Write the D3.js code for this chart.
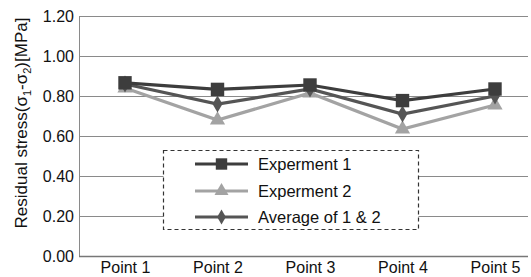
<!DOCTYPE html>
<html><head><meta charset="utf-8">
<script src="https://cdn.jsdelivr.net/npm/d3@7"></script>
<style>body{margin:0;background:#fff}svg{display:block}text{font-family:"Liberation Sans",Arial,sans-serif}</style>
</head><body><svg id="c" width="531" height="277"></svg>
<script>
const categories = ["Point 1","Point 2","Point 3","Point 4","Point 5"];
const experiment1 = [0.866,0.833,0.855,0.777,0.835];
const experiment2 = [0.84,0.68,0.815,0.635,0.755];
const average12 = [0.86,0.76,0.835,0.71,0.80];
const yTicks = [0,0.2,0.4,0.6,0.8,1.0,1.2];
const seriesNames = ["Experment 1","Experment 2","Average of 1 & 2"];

(function(){
const svg = d3.select("#c");
const mLeft = 79, mRight = 528, mTop = 16, mBottom = 256;
const x = d3.scalePoint().domain(categories).range([125, 495]);
const y = d3.scaleLinear().domain([0,1.2]).range([mBottom, mTop]);

// grid
svg.append("g").selectAll("line").data(yTicks.filter(d=>d>0)).join("line")
  .attr("x1",mLeft).attr("x2",mRight).attr("y1",d=>y(d)+0.5).attr("y2",d=>y(d)+0.5)
  .attr("stroke","#8a8a8a").attr("stroke-width",1);
// axes
const ya = svg.append("g").attr("transform",`translate(${mLeft},0)`)
  .call(d3.axisLeft(y).tickValues(yTicks).tickFormat(d3.format(".2f")).tickSize(0).tickPadding(5));
ya.select(".domain").attr("stroke","#8a8a8a");
ya.selectAll("text").attr("font-size",16).attr("fill","#111");
const xa = svg.append("g").attr("transform",`translate(0,${mBottom})`)
  .call(d3.axisBottom(x).tickSize(0).tickPadding(6));
xa.select(".domain").attr("d",`M${mLeft},0.5H${mRight}`).attr("stroke","#777").attr("stroke-width",1.5);
xa.selectAll("text").attr("font-size",16).attr("fill","#111");

// y title
const t = svg.append("text").attr("transform","translate(27,123) rotate(-90)")
  .attr("text-anchor","middle").attr("font-size",17).attr("fill","#111");
t.append("tspan").text("Residual stress(σ");
t.append("tspan").attr("font-size",11).attr("dy",4).text("1");
t.append("tspan").attr("dy",-4).text("-σ");
t.append("tspan").attr("font-size",11).attr("dy",4).text("2");
t.append("tspan").attr("dy",-4).text(")[MPa]");

const series = [
  {name:seriesNames[0], values:experiment1, color:"#3d3d3d", sym:d3.symbolSquare, size:180, lsize:130},
  {name:seriesNames[1], values:experiment2, color:"#a3a3a3", sym:d3.symbolTriangle, size:100, lsize:85},
  {name:seriesNames[2], values:average12, color:"#555555", sym:d3.symbolDiamond, size:85, lsize:65}
];
const line = d3.line().x((d,i)=>x(categories[i])).y(d=>y(d));
const order = [1,2,0];
order.forEach(k=>{
  const s = series[k];
  svg.append("path").datum(s.values).attr("d",line).attr("fill","none")
    .attr("stroke",s.color).attr("stroke-width",3.2);
});
order.forEach(k=>{
  const s = series[k];
  svg.append("g").selectAll("path").data(s.values).join("path")
    .attr("transform",(d,i)=>`translate(${x(categories[i])},${y(d)})`)
    .attr("d",d3.symbol().type(s.sym).size(s.size)).attr("fill",s.color);
});

// legend
const lg = svg.append("g");
lg.append("rect").attr("x",163.5).attr("y",150.5).attr("width",255).attr("height",79)
  .attr("fill","#fff").attr("stroke","#333").attr("stroke-width",1.2).attr("stroke-dasharray","4,3");
const rows = [164,191,217];
series.forEach((s,i)=>{
  const g = lg.append("g").attr("transform",`translate(0,${rows[i]})`);
  g.append("line").attr("x1",195).attr("x2",248).attr("stroke",s.color).attr("stroke-width",3.2);
  g.append("path").attr("transform","translate(221.5,0)").attr("d",d3.symbol().type(s.sym).size(s.lsize)).attr("fill",s.color);
  g.append("text").attr("x",258).attr("y",6).attr("font-size",16.5).attr("fill","#111").text(s.name);
});
})();
</script></body></html>
